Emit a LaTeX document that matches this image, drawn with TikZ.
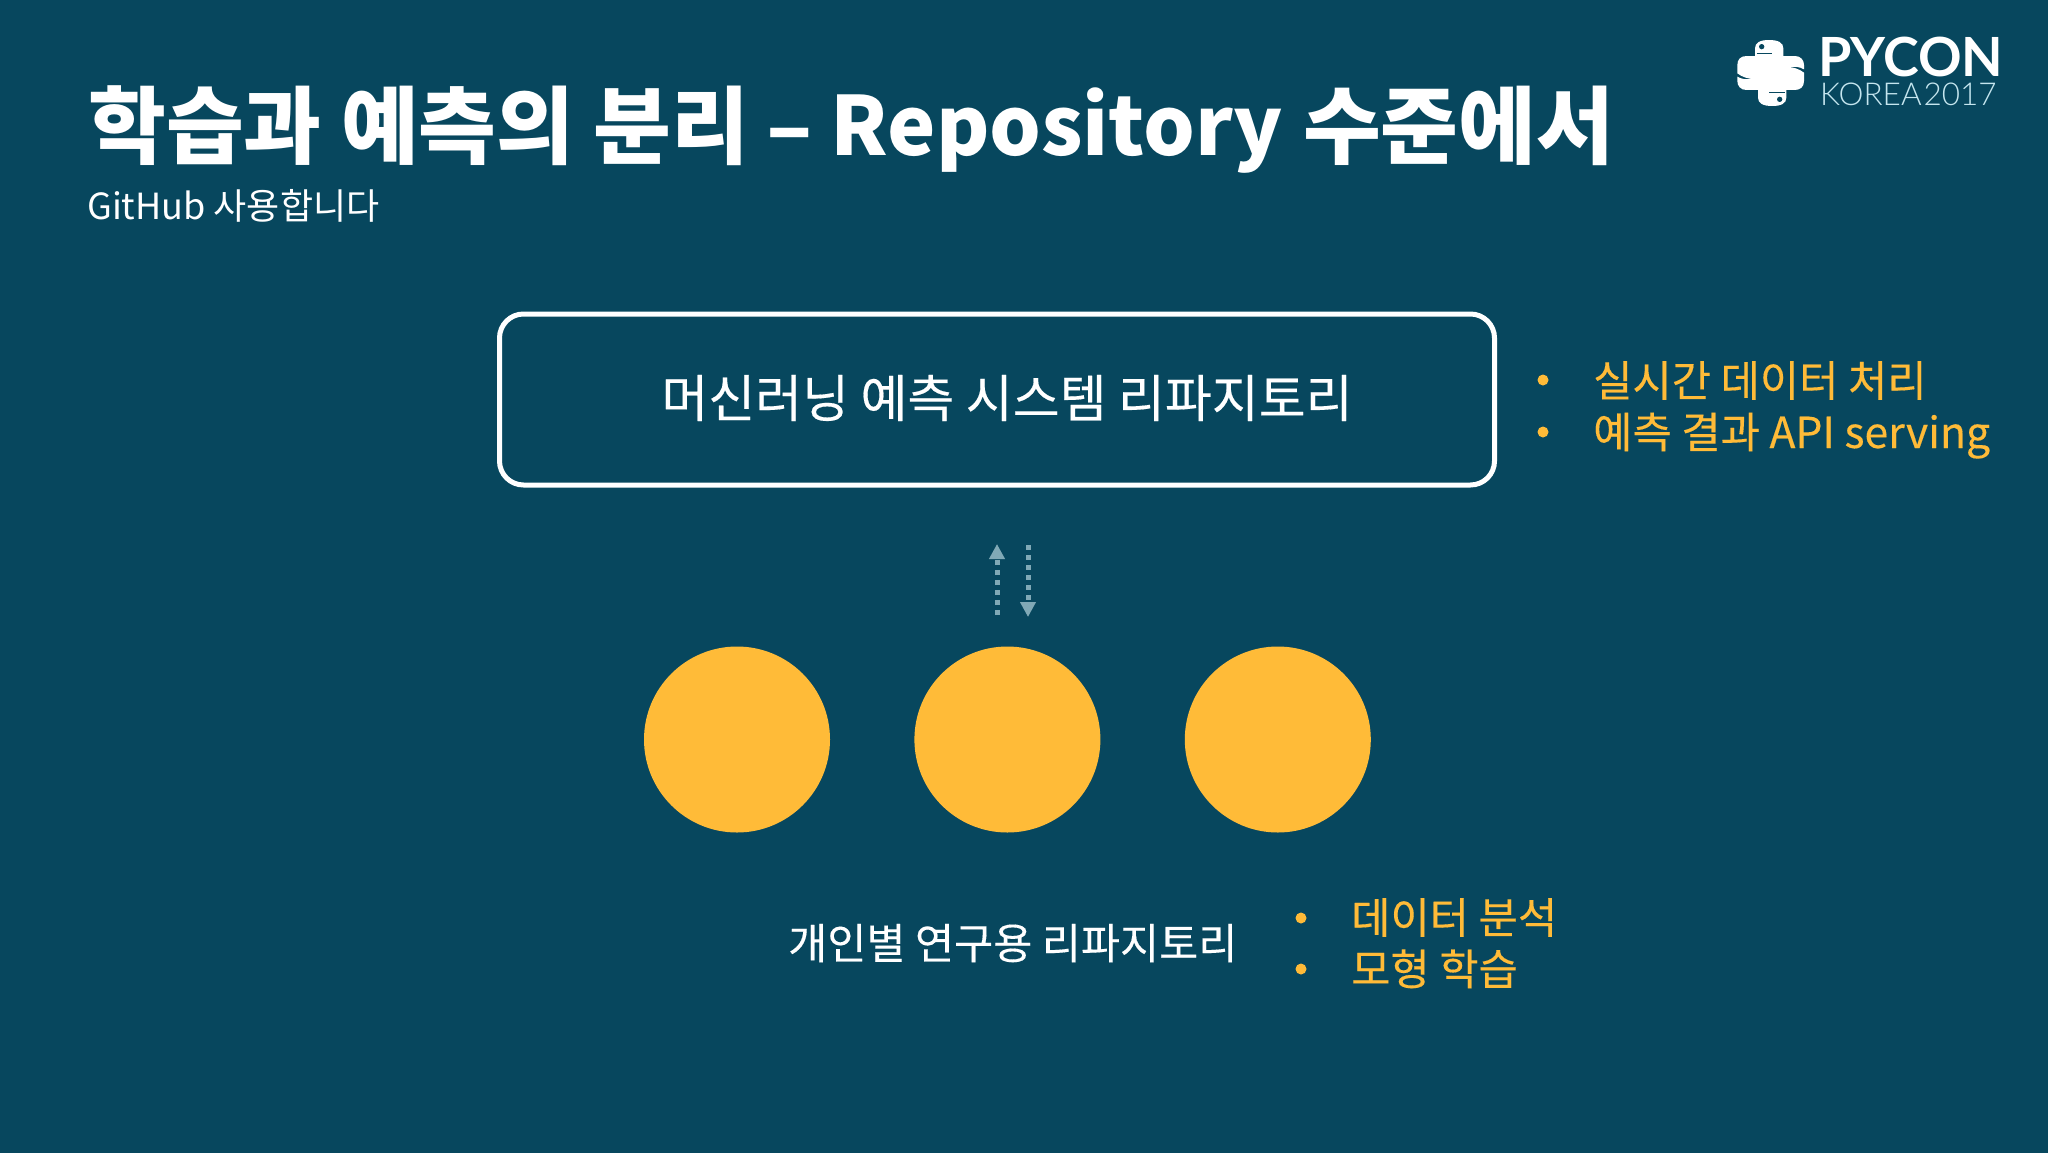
\documentclass[tikz,border=0pt]{standalone}
\usepackage{fontspec}
\setmainfont{Noto Sans CJK KR}
\newfontfamily\medfont[FakeBold=0.25]{Noto Sans CJK KR}
\newfontfamily\logofont{Lato}
\newfontfamily\logothin{Lato Light}
\usetikzlibrary{positioning,arrows.meta}
\definecolor{slidebg}{HTML}{07475E}
\definecolor{amber}{HTML}{FFBB38}
\definecolor{arrowgray}{HTML}{80A9B6}
\definecolor{logoblue}{HTML}{C5E6EF}
\tikzset{
  headtext/.style={anchor=base west,inner sep=0pt,text=white},
  noteline/.style={anchor=base west,inner sep=0pt,text=amber,font=\medfont\fontsize{42.7}{43}\selectfont},
  notedot/.style={circle,fill=amber,inner sep=0pt,minimum size=11pt},
  member/.style={circle,fill=amber,inner sep=0pt,minimum size=186pt},
  flowline/.style={arrowgray,line width=5pt,dash pattern=on 5pt off 5pt,
    -{Triangle[length=15pt,width=15pt,sep=0pt]}},
}
\begin{document}
\begin{tikzpicture}[x=1pt,y=-1pt]
  \useasboundingbox (0,0) rectangle (2048,1152);
  \fill[slidebg] (-5,-5) rectangle (2053,1157);

  \node[headtext,font=\fontsize{84.6}{85}\bfseries\selectfont] (title) at (88,157.5) {학습과 예측의 분리\hspace{-2pt} –\hspace{-2pt} \raisebox{2pt}{\fontsize{81.5}{82}\selectfont Repository}\hspace{1pt} 수준에서};
  \node[headtext,font=\fontsize{36}{36}\selectfont] (subtitle) at (87,219) {GitHub 사용합니다};

  % logo
  \begin{scope}[shift={(1700,20)},x=0.3333pt,y=-0.3333pt]
    \foreach \ang in {0,180} {
      \begin{scope}[rotate around={\ang:(212,159)}]
        \fill[white] (165,100) -- (165,85) .. controls (165,68) and (180,60) .. (207,60)
          .. controls (235,60) and (250,68) .. (250,85) -- (250,108) -- (285,108)
          .. controls (302,108) and (312,120) .. (312,135) -- (312,148)
          .. controls (285,132) and (250,142) .. (215,165)
          .. controls (185,183) and (140,182) .. (112,160) -- (112,135)
          .. controls (112,118) and (122,108) .. (140,108) -- (165,108) -- cycle;
        \draw[slidebg,line width=1.2pt] (170,101) -- (216,101);
        \fill[slidebg] (185,80) circle (8);
      \end{scope}
    }
  \end{scope}
  \node[headtext,text depth=0pt,font=\logofont\bfseries\fontsize{54}{54}\selectfont] (pycon) at (1818,76) {PYCON};
  \node[headtext,font=\logothin\fontsize{31.5}{32}\selectfont,text=logoblue] (korea) at (1820,105) {KOREA\hspace{2pt}2017};

  % top repository
  \node[draw=white,line width=5pt,rounded corners=24pt,minimum width=995pt,minimum height=171pt,
    inner sep=0pt,font=\medfont\fontsize{51}{51}\selectfont,text=white] (mainrepo) at (997,399.5) {\raisebox{1.5pt}[\height][\depth]{\hspace*{20pt}머신러닝 예측 시스템 리파지토리}};
  \node[notedot] (dot1) at (1543,380) {};
  \node[notedot] (dot2) at (1543,432) {};
  \node[noteline] (note1) at (1593,396.5) {실시간 데이터 처리};
  \node[noteline] (note2) at (1593,448) {예측 결과 API serving};

  % arrows
  \coordinate (upfrom) at (997,615);
  \coordinate (upto) at (997,544);
  \coordinate (downfrom) at (1028,545);
  \coordinate (downto) at (1028,617);
  \draw[flowline] (upfrom) -- (upto);
  \draw[flowline] (downfrom) -- (downto);

  % personal repositories
  \node[member] (c1) at (737,739.5) {};
  \node[member,right=84pt of c1] (c2) {};
  \node[member,right=84pt of c2] (c3) {};

  \node[headtext,font=\medfont\fontsize{42.5}{43}\selectfont] (labrepo) at (788,959) {개인별 연구용 리파지토리};
  \node[notedot] (dot3) at (1301,918) {};
  \node[notedot] (dot4) at (1301,969) {};
  \node[noteline] (note3) at (1351,933.5) {데이터 분석};
  \node[noteline] (note4) at (1351,985) {모형 학습};
\end{tikzpicture}
\end{document}
